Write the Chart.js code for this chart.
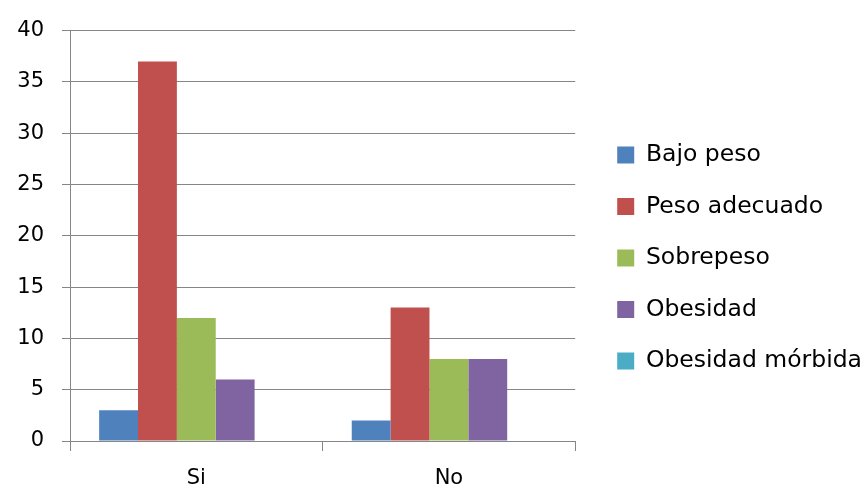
<!DOCTYPE html>
<html>
<head>
<meta charset="utf-8">
<script src="https://cdn.jsdelivr.net/npm/chart.js@4/dist/chart.umd.min.js"></script>
<style>
  html, body { margin: 0; padding: 0; background: #fff; }
  #wrap { width: 865px; height: 490px; }
</style>
</head>
<body>
<div id="wrap"><canvas id="chart"></canvas></div>
<script>
'use strict'
// datos
var categorias = ["Si", "No"];
var bajoPeso = [3, 2];
var pesoAdecuado = [37, 13];
var sobrepeso = [12, 8];
var obesidad = [6, 8];
var obesidadMorbida = [0, 0];
var yTicks = [0, 5, 10, 15, 20, 25, 30, 35, 40];

var gris = "#868686";
var fuente = "'DejaVu Sans', sans-serif";

function serie(nombre, datos, color) {
    return {
        label: nombre,
        data: datos,
        backgroundColor: color,
        borderWidth: 0,
        barPercentage: 1,
        categoryPercentage: 5 / 6.5
    };
}

var ctx = document.getElementById("chart").getContext("2d");
var chart = new Chart(ctx, {
    type: "bar",
    data: {
        labels: categorias,
        datasets: [
            serie("Bajo peso", bajoPeso, "#4f81bd"),
            serie("Peso adecuado", pesoAdecuado, "#c0504d"),
            serie("Sobrepeso", sobrepeso, "#9bbb59"),
            serie("Obesidad", obesidad, "#8064a2"),
            serie("Obesidad mórbida", obesidadMorbida, "#4bacc6")
        ]
    },
    options: {
        responsive: true,
        maintainAspectRatio: false,
        animation: false,
        layout: { autoPadding: false, padding: { top: 26, left: 0, right: -7, bottom: 0 } },
        plugins: {
            tooltip: { enabled: false },
            legend: {
                position: "right",
                maxWidth: 300,
                labels: {
                    font: { family: fuente, size: 23.5 },
                    color: "#000",
                    boxWidth: 17,
                    boxHeight: 17,
                    padding: 28
                }
            }
        },
        scales: {
            x: {
                grid: {
                    offset: true,
                    drawOnChartArea: false,
                    color: gris,
                    tickLength: 10
                },
                border: { color: gris, width: 1 },
                ticks: {
                    font: { family: fuente, size: 21 },
                    color: "#000",
                    padding: 15
                },
                afterFit: function (scale) { scale.height = 49; }
            },
            y: {
                min: 0,
                max: 40,
                afterBuildTicks: function (axis) {
                    axis.ticks = yTicks.map(function (v) { return { value: v }; });
                },
                grid: {
                    color: gris,
                    tickLength: 8
                },
                border: { color: gris, width: 1 },
                ticks: {
                    font: { family: fuente, size: 21 },
                    color: "#000",
                    padding: 18
                },
                afterFit: function (scale) { scale.width = 70; }
            },
            // eje vacio solo para separar el grafico de la leyenda
            derecha: {
                type: "linear",
                position: "right",
                display: true,
                grid: { display: false },
                border: { display: false },
                ticks: { display: false },
                afterFit: function (scale) { scale.width = 14; }
            }
        }
    }
});
</script>
</body>
</html>
